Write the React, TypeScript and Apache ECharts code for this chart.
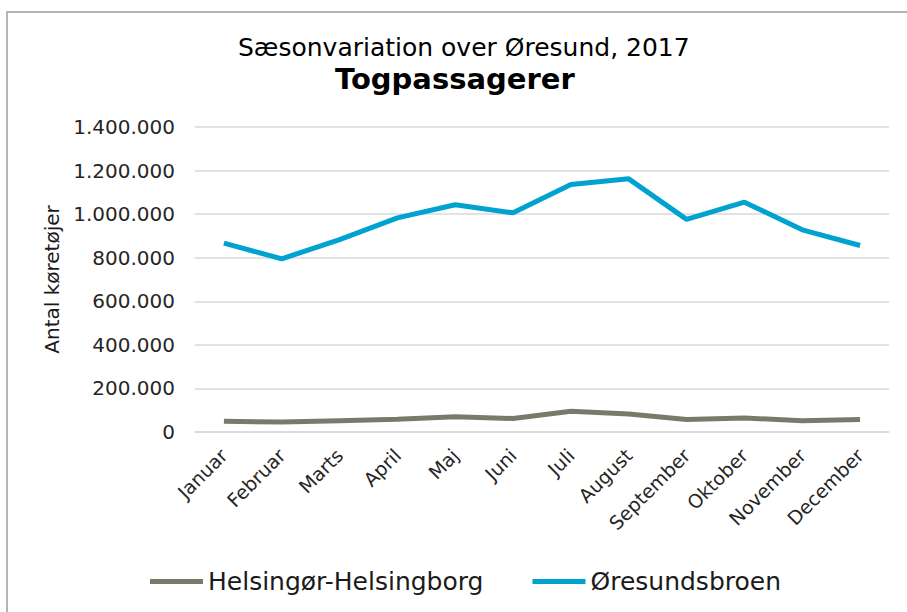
import React, { useEffect, useRef } from "react";
import * as echarts from "echarts";

const months = ["Januar", "Februar", "Marts", "April", "Maj", "Juni", "Juli", "August", "September", "Oktober", "November", "December"];
const helsingor = [49000, 46000, 52000, 58000, 70000, 62000, 95000, 83000, 57000, 64000, 52000, 57000];
const oresund = [867000, 795000, 883000, 983000, 1043000, 1006000, 1136000, 1162000, 976000, 1055000, 928000, 856000];
const seriesNames = ["Helsingør-Helsingborg", "Øresundsbroen"];
const titleText = "Sæsonvariation over Øresund, 2017";
const subTitleText = "Togpassagerer";
const yName = "Antal køretøjer";

const FONT = "DejaVu Sans";

function fmt(v: number): string {
  return String(Math.round(v)).replace(/\B(?=(\d{3})+(?!\d))/g, ".");
}

export default function App() {
  const ref = useRef<HTMLDivElement>(null);
  useEffect(() => {
    if (!ref.current) return;
    const chart = echarts.init(ref.current, undefined, { renderer: "svg" });
    chart.setOption({
      animation: false,
      backgroundColor: "#ffffff",
      textStyle: { fontFamily: FONT },
      title: [
        {
          text: titleText,
          left: 238,
          top: 35,
          padding: 0,
          textStyle: { fontFamily: FONT, fontSize: 25, lineHeight: 25, fontWeight: "normal", color: "#000000" },
        },
        {
          text: subTitleText,
          left: 335,
          top: 64,
          padding: 0,
          textStyle: { fontFamily: FONT, fontSize: 29, lineHeight: 29, fontWeight: "bold", color: "#000000" },
        },
      ],
      graphic: [
        {
          type: "rect",
          shape: { x: 7, y: 12, width: 940, height: 640 },
          style: { fill: "none", stroke: "#b4b4b4", lineWidth: 2 },
          silent: true,
        },
      ],
      legend: {
        left: 150,
        top: 569,
        padding: 0,
        itemGap: 49,
        itemWidth: 53,
        itemHeight: 5,
        icon: "rect",
        data: seriesNames,
        textStyle: { fontFamily: FONT, fontSize: 25, color: "#1a1a1a", padding: [0, 0, 0, 0] },
      },
      grid: { left: 195, right: 18, top: 127, bottom: 180, containLabel: false },
      xAxis: {
        type: "category",
        data: months,
        boundaryGap: true,
        axisLine: { show: true, lineStyle: { color: "#d9d9d9", width: 1.5 } },
        axisTick: { show: false },
        axisLabel: {
          rotate: 45,
          margin: 20,
          interval: 0,
          fontFamily: FONT,
          fontSize: 19,
          color: "#262626",
        },
      },
      yAxis: {
        type: "value",
        min: 0,
        max: 1400000,
        interval: 200000,
        name: yName,
        nameLocation: "middle",
        nameGap: 130,
        nameTextStyle: { fontFamily: FONT, fontSize: 20, color: "#1a1a1a" },
        axisLine: { show: false },
        axisTick: { show: false },
        splitLine: { show: true, lineStyle: { color: "#d9d9d9", width: 1.5 } },
        axisLabel: {
          margin: 20,
          fontFamily: FONT,
          fontSize: 20,
          color: "#262626",
          formatter: (v: number) => fmt(v),
        },
      },
      series: [
        {
          name: seriesNames[0],
          type: "line",
          data: helsingor,
          symbol: "none",
          lineStyle: { color: "#7b7a6a", width: 5 },
          itemStyle: { color: "#7b7a6a" },
        },
        {
          name: seriesNames[1],
          type: "line",
          data: oresund,
          symbol: "none",
          lineStyle: { color: "#00a2d0", width: 5 },
          itemStyle: { color: "#00a2d0" },
        },
      ],
    });
    return () => chart.dispose();
  }, []);
  return (
    <div
      ref={ref}
      style={{ position: "fixed", left: 0, top: 0, width: 907, height: 612, background: "#fff" }}
    />
  );
}
